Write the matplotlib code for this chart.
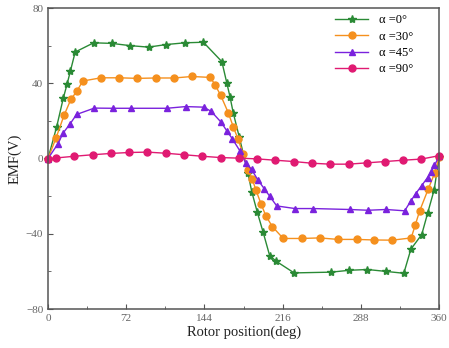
import matplotlib
matplotlib.use("Agg")
import matplotlib.pyplot as plt
from matplotlib.ticker import MultipleLocator

plt.rcParams['font.family'] = ['Liberation Serif', 'DejaVu Serif']

# alpha = 0 deg
x0 = [0, 8, 14, 17.5, 20.5, 25, 42, 58.5, 75.5, 92.5, 109, 126, 143, 160, 164.5, 167.5,
      170.5, 176, 184, 187.5, 192.5, 198, 204, 210, 226.5, 260.5, 277.5, 294, 311, 327.5,
      334, 344, 349.5, 355.5, 360]
y0 = [0, 17, 32, 39.5, 46.3, 56.6, 61.5, 61.2, 60, 59.2, 60.6, 61.5, 61.8, 51.5, 40.3, 32.8,
      24.2, 11.5, -7.6, -17.6, -28.3, -39.2, -51.6, -54.6, -60.8, -60.4, -59.4, -59, -60, -61,
      -48.2, -40.4, -28.9, -16.5, 1]

# alpha = 30 deg
x30 = [0, 7.4, 14.7, 21, 26.4, 32, 48.8, 65.5, 82.2, 99, 116, 132.6, 149.5, 154, 159, 166,
       170.6, 175, 179.5, 184, 188, 191.5, 196, 200.5, 206.5, 216.5, 233.5, 250, 267, 284,
       300.5, 317, 334.3, 338, 342, 350, 356, 360]
y30 = [0, 11, 22.9, 31.4, 35.7, 41.2, 42.9, 42.9, 42.6, 42.8, 42.8, 43.6, 43.1, 38.9, 33.5, 24.2,
       16.7, 10.2, 2.5, -6, -11, -17, -24, -30.5, -36.2, -42.5, -42.5, -42.2, -43, -43,
       -43.3, -43.4, -42.2, -35.4, -28, -16.2, -7.6, 1]

# alpha = 45 deg
x45 = [0, 9.2, 13.8, 20.3, 26.2, 42.6, 59.6, 76.4, 109.3, 126.6, 143.3, 150.3, 159.3, 164.8,
       169.5, 176.8, 181.8, 187.3, 193.3, 199.1, 204, 210.5, 227.4, 244.3, 277.7, 294.6, 311.2,
       328.3, 334, 338.3, 343.8, 349.4, 352.7, 355.7, 360]
y45 = [0, 7.9, 13.5, 18.4, 23.4, 26.8, 26.7, 26.7, 26.7, 27.6, 27.3, 25, 19.3, 14.5,
       10.6, 3.9, -2.2, -5.8, -11.5, -16.1, -20, -25.2, -26.6, -26.6, -27.1, -27.5, -27.1,
       -27.8, -22.5, -18.8, -14.5, -10.1, -7, -3.7, 1.2]

# alpha = 90 deg
x90 = [0, 7.4, 24.2, 41, 58, 74.7, 91.5, 108.4, 125.2, 142, 158.9, 176, 192.3, 209, 226,
       242.8, 259.7, 276.6, 293.5, 310.3, 327, 343.6, 360]
y90 = [0, 0.3, 1.2, 2.0, 2.7, 3.2, 3.4, 2.8, 2.0, 1.2, 0.5, 0.2, -0.2, -0.9, -1.6,
       -2.5, -3.0, -3.0, -2.3, -1.6, -0.9, -0.3, 1.5]

labels = ['α =0°', 'α =30°', 'α =45°', 'α =90°']

fig = plt.figure(figsize=(4.49, 3.48), dpi=100)
ax = fig.add_axes([0.107, 0.112, 0.871, 0.865])

ax.plot(x0, y0, color='#2a8a35', marker='*', markersize=6, lw=1, label=labels[0], clip_on=False)
ax.plot(x30, y30, color='#f5901e', marker='o', markersize=5, lw=1, label=labels[1], clip_on=False)
ax.plot(x45, y45, color='#7a22dd', marker='^', markersize=5, lw=1, label=labels[2], clip_on=False)
ax.plot(x90, y90, color='#e01a72', marker='o', markersize=5, lw=1, label=labels[3], clip_on=False)

ax.set_xlim(0, 360)
ax.set_ylim(-80, 80)
ax.xaxis.set_major_locator(MultipleLocator(72))
ax.xaxis.set_minor_locator(MultipleLocator(36))
ax.yaxis.set_major_locator(MultipleLocator(40))
ax.yaxis.set_minor_locator(MultipleLocator(20))
ax.tick_params(which='both', direction='in', colors='#555555', labelsize=8, labelcolor='#666666')
ax.tick_params(which='major', length=3.5)
ax.tick_params(which='minor', length=2)
for s in ax.spines.values():
    s.set_color('#555555')
    s.set_linewidth(1.1)

ax.set_xlabel('Rotor position(deg)', fontsize=10.5, color='#222222', labelpad=2)
ax.set_ylabel('EMF(V)', fontsize=10.5, color='#222222', labelpad=3)

ax.legend(loc='upper right', frameon=False, fontsize=9, handlelength=2.6,
          borderaxespad=0.1, labelspacing=0.35, handletextpad=0.9,
          bbox_to_anchor=(0.95, 1.0))

fig.savefig('out.png', dpi=100)
